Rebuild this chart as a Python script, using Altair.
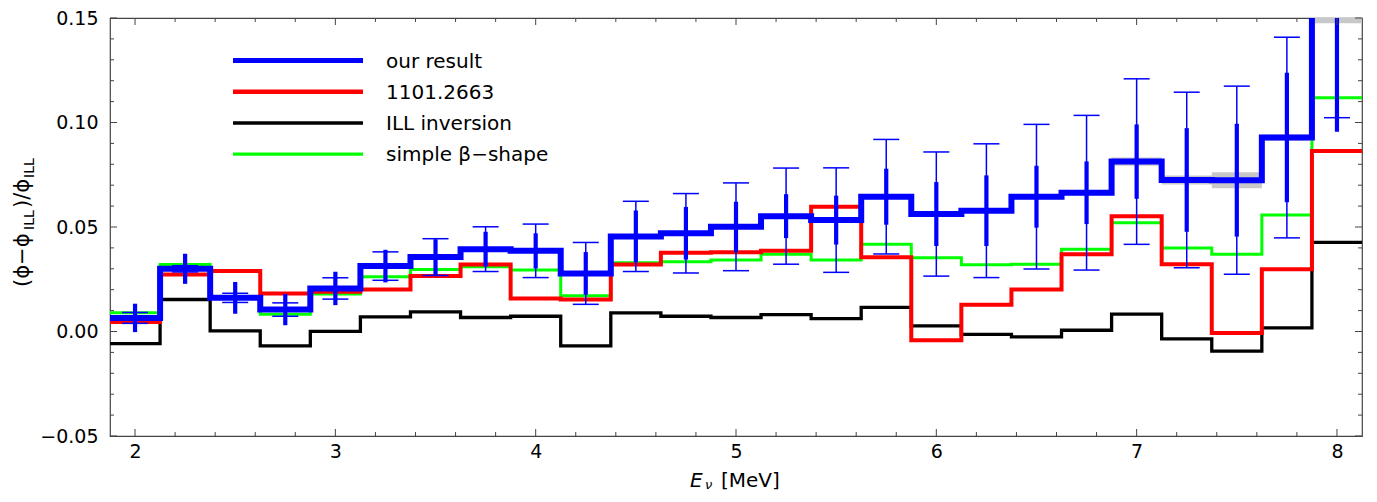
import altair as alt
import pandas as pd

# ---------------- data ----------------
centers = [2.0, 2.25, 2.5, 2.75, 3.0, 3.25, 3.5, 3.75, 4.0, 4.25, 4.5, 4.75, 5.0,
           5.25, 5.5, 5.75, 6.0, 6.25, 6.5, 6.75, 7.0, 7.25, 7.5, 7.75, 8.0]

our_result = [0.0065, 0.0300, 0.0161, 0.0105, 0.0206, 0.0313, 0.0356, 0.0394, 0.0386,
              0.0278, 0.0455, 0.0470, 0.0501, 0.0552, 0.0533, 0.0645, 0.0562, 0.0578,
              0.0645, 0.0664, 0.0813, 0.0725, 0.0724, 0.0928, 0.1535]
err_outer = [0.0026, 0.0015, 0.0022, 0.0032, 0.0051, 0.0068, 0.0088, 0.0107, 0.0128,
             0.0148, 0.0168, 0.0190, 0.0210, 0.0230, 0.0250, 0.0274, 0.0297, 0.0320,
             0.0346, 0.0370, 0.0396, 0.0420, 0.0450, 0.0480, 0.0512]
err_inner = [0.0068, 0.0072, 0.0076, 0.0075, 0.0080, 0.0078, 0.0085, 0.0083, 0.0084,
             0.0102, 0.0124, 0.0126, 0.0120, 0.0105, 0.0117, 0.0134, 0.0153, 0.0169,
             0.0148, 0.0150, 0.0178, 0.0248, 0.0270, 0.0310, 0.0579]
band_half = [0.0010, 0.0010, 0.0010, 0.0010, 0.0010, 0.0010, 0.0010, 0.0010, 0.0010,
             0.0010, 0.0010, 0.0010, 0.0010, 0.0010, 0.0010, 0.0010, 0.0010, 0.0010,
             0.0012, 0.0012, 0.0020, 0.0022, 0.0038, 0.0015, 0.0060]

ref_1101 = [0.0046, 0.0273, 0.0290, 0.0182, 0.0190, 0.0201, 0.0266, 0.0321, 0.0158,
            0.0153, 0.0321, 0.0377, 0.0379, 0.0386, 0.0597, 0.0355, -0.0042, 0.0128,
            0.0201, 0.0370, 0.0552, 0.0322, -0.0007, 0.0298, 0.0864]
ill_inversion = [-0.0058, 0.0153, 0.0003, -0.0069, 0.0001, 0.0070, 0.0094, 0.0067, 0.0073,
                 -0.0069, 0.0089, 0.0073, 0.0067, 0.0081, 0.0062, 0.0115, 0.0027, -0.0014,
                 -0.0026, 0.0006, 0.0083, -0.0035, -0.0094, 0.0017, 0.0426]
beta_shape = [0.0090, 0.0321, 0.0166, 0.0083, 0.0179, 0.0262, 0.0297, 0.0310, 0.0294,
              0.0171, 0.0329, 0.0334, 0.0342, 0.0370, 0.0342, 0.0418, 0.0353, 0.0319,
              0.0322, 0.0393, 0.0520, 0.0400, 0.0370, 0.0557, 0.1119]

series_names = ["our result", "1101.2663", "ILL inversion", "simple \u03b2\u2212shape"]

x_major = [2, 3, 4, 5, 6, 7, 8]
y_major = [-0.05, 0.0, 0.05, 0.10, 0.15]
x_minor = [round(2 + 0.2 * k, 1) for k in range(31) if k % 5]
y_minor = [round(-0.05 + 0.01 * k, 2) for k in range(21) if k % 5]

# ---------------- style ----------------
FONT = "DejaVu Sans"
FRAME = "#444444"
BLUE, RED, BLACK, GREEN = "#0000ff", "#ff0000", "#000000", "#00ff00"
W, H = 1252, 418

half = (centers[1] - centers[0]) / 2
edges_lo = [c - half for c in centers]
edges_hi = [c + half for c in centers]

sx = alt.Scale(domain=[edges_lo[0], edges_hi[-1]], nice=False, zero=False)
sy = alt.Scale(domain=[y_major[0], y_major[-1]], nice=False, zero=False)
ax_x = alt.Axis(values=x_major, format="d", ticks=False, domain=False, grid=False,
                labelFont=FONT, labelFontSize=19, labelColor="black", labelPadding=6,
                title=None)
ax_y = alt.Axis(values=y_major, format=".2f", ticks=False, domain=False, grid=False,
                labelFont=FONT, labelFontSize=19, labelColor="black", labelPadding=12,
                title=None)


def X(f):
    return alt.X(f, type="quantitative", scale=sx, axis=ax_x)


def Y(f):
    return alt.Y(f, type="quantitative", scale=sy, axis=ax_y)


def step_df(vals):
    return pd.DataFrame({"x": edges_lo + [edges_hi[-1]], "y": list(vals) + [vals[-1]]})


def step_line(vals, color, width):
    return alt.Chart(step_df(vals)).mark_line(
        interpolate="step-after", color=color, strokeWidth=width, clip=True,
        strokeJoin="miter", strokeCap="square"
    ).encode(x=X("x"), y=Y("y"))


layers = []
layers.append(step_line(ill_inversion, BLACK, 3.3))
layers.append(step_line(beta_shape, GREEN, 3.0))
layers.append(step_line(ref_1101, RED, 4.0))

df = pd.DataFrame({
    "c": centers, "lo": edges_lo, "hi": edges_hi, "v": our_result,
    "blo": [v - b for v, b in zip(our_result, band_half)],
    "bhi": [v + b for v, b in zip(our_result, band_half)],
    "elo": [v - e for v, e in zip(our_result, err_outer)],
    "ehi": [v + e for v, e in zip(our_result, err_outer)],
    "ilo": [v - e for v, e in zip(our_result, err_inner)],
    "ihi": [v + e for v, e in zip(our_result, err_inner)],
})

layers.append(alt.Chart(df).mark_rect(color="#c8c8c8", clip=True).encode(
    x=X("lo"), x2="hi", y=Y("blo"), y2="bhi"))
layers.append(step_line(our_result, BLUE, 6.0))
layers.append(alt.Chart(df).mark_rule(color=BLUE, strokeWidth=1.5, clip=True).encode(
    x=X("c"), y=Y("elo"), y2="ehi"))
layers.append(alt.Chart(df).mark_tick(orient="horizontal", size=26, thickness=1.5,
                                      color=BLUE, clip=True, opacity=1).encode(
    x=X("c"), y=Y("ehi")))
layers.append(alt.Chart(df).mark_tick(orient="horizontal", size=26, thickness=1.5,
                                      color=BLUE, clip=True, opacity=1).encode(
    x=X("c"), y=Y("elo")))
layers.append(alt.Chart(df).mark_rule(color=BLUE, strokeWidth=4.2, clip=True).encode(
    x=X("c"), y=Y("ilo"), y2="ihi"))

# ---------------- inward frame ticks ----------------
for vals, ln in [(x_major, 7), (x_minor, 4)]:
    tdf = pd.DataFrame({"x": vals})
    layers.append(alt.Chart(tdf).mark_rule(color=FRAME, strokeWidth=1).encode(
        x=X("x"), y=alt.value(H), y2=alt.value(H - ln)))
    layers.append(alt.Chart(tdf).mark_rule(color=FRAME, strokeWidth=1).encode(
        x=X("x"), y=alt.value(0), y2=alt.value(ln)))
for vals, ln in [(y_major, 7), (y_minor, 4)]:
    tdf = pd.DataFrame({"y": vals})
    layers.append(alt.Chart(tdf).mark_rule(color=FRAME, strokeWidth=1).encode(
        y=Y("y"), x=alt.value(0), x2=alt.value(ln)))
    layers.append(alt.Chart(tdf).mark_rule(color=FRAME, strokeWidth=1).encode(
        y=Y("y"), x=alt.value(W), x2=alt.value(W - ln)))

# ---------------- legend ----------------
leg_colors = [BLUE, RED, BLACK, GREEN]
leg_widths = [5.0, 4.5, 3.5, 3.3]
for i, (name, col, lw) in enumerate(zip(series_names, leg_colors, leg_widths)):
    ly = 42.6 + 31.2 * i
    ldf = pd.DataFrame({"label": [name]})
    layers.append(alt.Chart(ldf).mark_rule(color=col, strokeWidth=lw).encode(
        x=alt.value(123), x2=alt.value(253), y=alt.value(ly)))
    layers.append(alt.Chart(ldf).mark_text(
        align="left", baseline="middle", font=FONT, fontSize=20, color="black"
    ).encode(text="label:N", x=alt.value(276), y=alt.value(ly + 1)))

# ---------------- axis titles (with subscripts) ----------------
def txt(s, x, y, size, italic=False, angle=0):
    kw = dict(align="left", baseline="alphabetic", font=FONT, fontSize=size, color="black")
    if italic:
        kw["fontStyle"] = "italic"
    if angle:
        kw["angle"] = angle
    return alt.Chart(pd.DataFrame({"t": [s]})).mark_text(**kw).encode(
        text="t:N", x=alt.value(x), y=alt.value(y))

layers.append(txt("E", 580, 469, 20, italic=True))
layers.append(txt("\u03bd", 595, 471, 13, italic=True))
layers.append(txt("[MeV]", 611, 469, 20))

layers.append(txt("(\u03d5\u2212\u03d5", -81, 269, 21, angle=270))
layers.append(txt("ILL", -76, 212, 14, angle=270))
layers.append(txt(")/\u03d5", -81, 190, 21, angle=270))
layers.append(txt("ILL", -76, 160, 14, angle=270))

chart = alt.layer(*layers).properties(
    width=W, height=H,
    padding={"left": 102, "top": 10, "right": 5, "bottom": 58},
    autosize=alt.AutoSizeParams(type="none"),
).configure_view(stroke=FRAME, strokeWidth=1.2)

chart.save("out.html", embed_options={"renderer": "svg", "actions": False})
